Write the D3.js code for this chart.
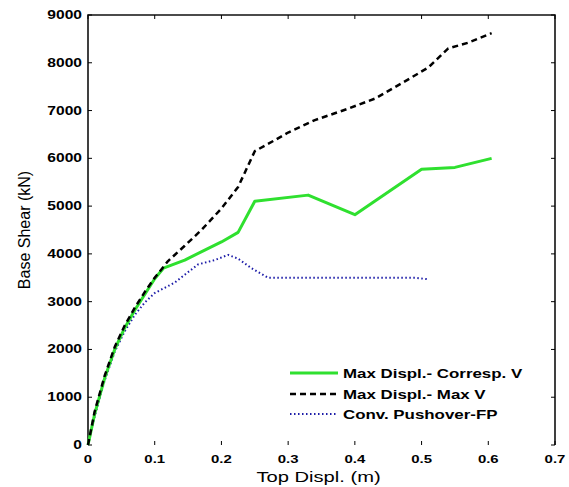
<!DOCTYPE html>
<html><head><meta charset="utf-8">
<script src="https://cdn.jsdelivr.net/npm/d3@7"></script>
<style>body{margin:0;background:#fff}svg{display:block}text{font-family:"Liberation Sans",Arial,sans-serif}</style>
</head><body><svg id="c" width="569" height="487"></svg>
<script>
const xTicks = [0,0.1,0.2,0.3,0.4,0.5,0.6,0.7];
const xTickLabels = ["0","0.1","0.2","0.3","0.4","0.5","0.6","0.7"];
const yTicks = [0,1000,2000,3000,4000,5000,6000,7000,8000,9000];
const seriesNames = ["Max Displ.- Corresp. V","Max Displ.- Max V","Conv. Pushover-FP"];
const greenX = [0,0.01,0.025,0.04,0.055,0.07,0.085,0.1,0.113,0.145,0.175,0.2,0.225,0.25,0.33,0.4,0.5,0.55,0.605];
const greenY = [0,650,1400,2000,2450,2820,3150,3480,3700,3870,4080,4250,4450,5100,5230,4820,5770,5810,6000];
const blackX = [0,0.01,0.025,0.04,0.055,0.07,0.085,0.1,0.12,0.145,0.17,0.2,0.225,0.235,0.25,0.28,0.3,0.34,0.39,0.43,0.47,0.51,0.54,0.57,0.605];
const blackY = [0,700,1450,2050,2500,2870,3200,3500,3850,4170,4500,4950,5400,5700,6150,6380,6540,6800,7040,7250,7570,7900,8300,8420,8620];
const blueX = [0,0.01,0.025,0.04,0.055,0.07,0.085,0.1,0.13,0.165,0.19,0.21,0.225,0.245,0.27,0.35,0.45,0.49,0.51];
const blueY = [0,600,1350,1950,2380,2720,2980,3180,3400,3780,3870,3980,3900,3700,3500,3500,3500,3500,3470];

const svg = d3.select("#c");
const L=88,R=555,T=15,B=445;
const SX=1.3;
const x = d3.scaleLinear().domain([0,0.7]).range([L,R]);
const y = d3.scaleLinear().domain([0,9000]).range([B,T]);

function txt(g,px,py,s,opts){
  return g.append("text").attr("transform",`translate(${px},${py}) scale(${opts.sx||1},1)`)
    .attr("text-anchor",opts.anchor||"start").attr("font-size",opts.size)
    .attr("font-weight",opts.weight||"normal").text(s);
}

svg.append("path").attr("d",`M${L},${B}V${T}H${R}V${B}`).attr("fill","none").attr("stroke","#111").attr("stroke-width",1.6);

const xa = svg.append("g");
xTicks.forEach((t,i)=>{
  const px = x(t);
  xa.append("line").attr("x1",px).attr("x2",px).attr("y1",B).attr("y2",B-4).attr("stroke","#000");
  xa.append("line").attr("x1",px).attr("x2",px).attr("y1",T).attr("y2",T+4).attr("stroke","#000");
  txt(xa,px,463,xTickLabels[i],{anchor:"middle",size:"11.5px",weight:"bold",sx:SX});
});
const ya = svg.append("g");
yTicks.forEach(t=>{
  const py = y(t);
  ya.append("line").attr("x1",L).attr("x2",L+4).attr("y1",py).attr("y2",py).attr("stroke","#000");
  ya.append("line").attr("x1",R).attr("x2",R-4).attr("y1",py).attr("y2",py).attr("stroke","#000");
  txt(ya,L-6,py+4,String(t),{anchor:"end",size:"12px",weight:"bold",sx:SX});
});

txt(svg,(L+R)/2-3,482,"Top Displ. (m)",{anchor:"middle",size:"15.5px",sx:SX});
svg.append("text").attr("transform",`translate(30,${(T+B)/2}) rotate(-90)`).attr("text-anchor","middle").attr("font-size","16px").text("Base Shear (kN)");

const line = d3.line().x(d=>x(d[0])).y(d=>y(d[1]));
const styles = [
  {xs:greenX,ys:greenY,color:"#2fe02f",w:3,dash:null},
  {xs:blackX,ys:blackY,color:"#000",w:2.5,dash:"6,4"},
  {xs:blueX,ys:blueY,color:"#1c1ca8",w:2,dash:"1.5,2.5"}
];
[2,0,1].forEach(i=>{
  const s=styles[i];
  const data = s.xs.map((v,j)=>[v,s.ys[j]]);
  svg.append("path").datum(data).attr("d",line).attr("fill","none").attr("stroke",s.color)
    .attr("stroke-width",s.w).attr("stroke-dasharray",s.dash).attr("stroke-linejoin","round");
});

const lg = svg.append("g");
const legY=[373,394,414];
seriesNames.forEach((n,i)=>{
  const s=styles[i];
  lg.append("line").attr("x1",290).attr("x2",338).attr("y1",legY[i]).attr("y2",legY[i])
    .attr("stroke",s.color).attr("stroke-width",s.w).attr("stroke-dasharray",s.dash);
  txt(lg,343,legY[i]+5,n,{size:"13px",weight:"bold",sx:SX});
});
</script></body></html>
